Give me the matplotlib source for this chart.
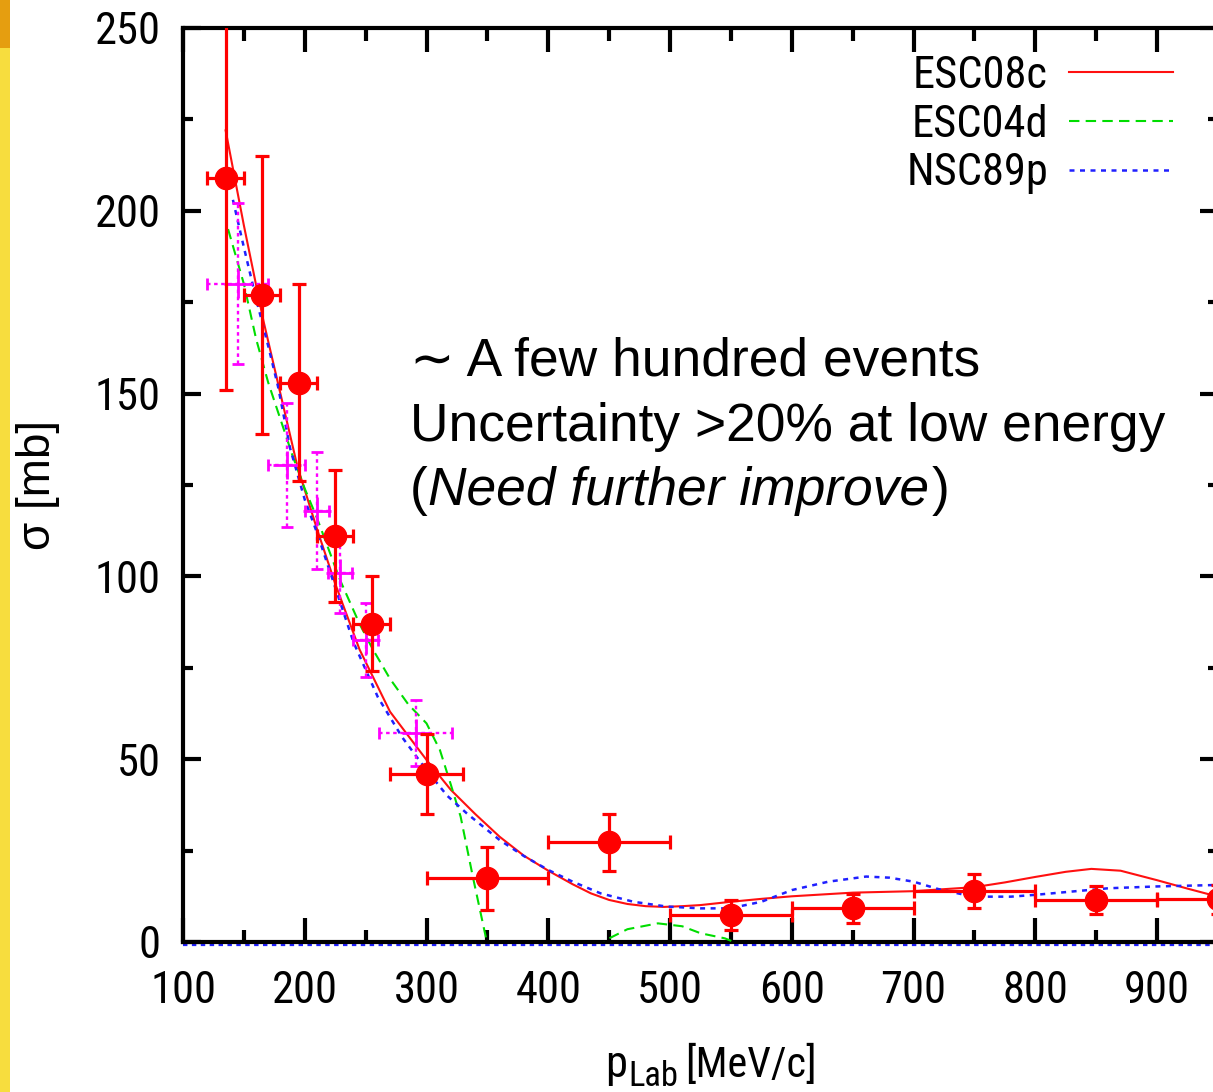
import matplotlib
matplotlib.use('Agg')
import matplotlib.pyplot as plt
import matplotlib.transforms as mtransforms
from matplotlib.patches import Rectangle
from matplotlib.ticker import MultipleLocator
from matplotlib import font_manager as fm
import numpy as np

# ---------------- data ----------------
new_x = [135, 165, 195, 225, 255, 300, 350, 450, 550, 650, 750, 850, 950]
new_y = [209, 177, 153, 111, 87, 46, 17.4, 27.3, 7.4, 9.2, 14.0, 11.5, 11.7]
new_xerr = [15, 15, 15, 15, 15, 30, 50, 50, 50, 50, 50, 50, 50]
new_yerr = [58, 38, 27, 18, 13, 11, 8.6, 7.8, 4, 4, 4.6, 3.8, 4]

old_x = [145, 185, 210, 229, 250, 291]
old_y = [180, 130.5, 118, 101, 82.6, 57.2]
old_xerr = [25, 15, 10, 10, 10, 30]
old_yerr = [22, 17, 16, 11, 10, 9]

esc08_x = [135, 150, 166, 180, 194, 210, 225, 245, 270, 300, 320, 340, 360, 380,
           400, 420, 435, 450, 465, 480, 495, 510, 525, 550, 575, 600, 650, 700, 750, 775,
           800, 825, 846, 870, 900, 925, 950]
esc08_y = [222, 196, 170, 150, 130, 113, 98, 80, 63, 49.8, 41.6, 35, 28.8, 23.6,
           19.5, 15.8, 13.3, 11.5, 10.4, 9.8, 9.6, 9.8, 10.1, 11, 11.8, 12.5, 13.5, 13.9, 15.0,
           16.3, 17.8, 19.2, 20.0, 19.5, 16.9, 14.6, 12.4]

esc04_x = [137, 150, 160, 170, 180, 190, 200, 210, 229, 245, 256, 270, 285, 300,
           311, 320, 328, 338, 348, 353,
           np.nan,
           440, 450, 465, 490, 510, 525, 545, 560]
esc04_y = [195, 180, 165, 153, 143, 133, 124, 116, 99, 87, 80, 72, 65, 59.8,
           52.5, 43, 34.3, 17.9, 2.4, -5,
           np.nan,
           -2, 1.0, 3.5, 5.1, 4.3, 2.4, 1.0, -1]

nsc_x = [141, 150, 160, 170, 178, 188, 200, 210, 221, 240, 260, 280, 300, 317, 333,
         360, 380, 400, 420, 443, 470, 497, 525, 549, 575, 600, 630, 661, 680, 700,
         720, 742, 760, 780, 800, 830, 860, 900, 950]
nsc_y = [203, 190, 176, 163, 152, 135, 121, 112, 101, 82, 67, 56, 47, 40, 35.2,
         27.9, 23.5, 19.7, 16.5, 13.3, 11, 9.7, 9.2, 9.2, 11, 14.2, 16.5, 17.9, 17.6,
         16.5, 14.5, 12.9, 12.4, 12.4, 12.9, 13.8, 14.7, 15.2, 15.6]

xticks = [100, 200, 300, 400, 500, 600, 700, 800, 900]
yticks = [0, 50, 100, 150, 200, 250]
legend_labels = ['ESC08c', 'ESC04d', 'NSC89p']

# ---------------- pick a narrow font if any ----------------
def pick_narrow():
    fl = fm.fontManager.ttflist
    for key in ['Liberation Sans Narrow', 'Arial Narrow', 'DejaVu Sans Condensed',
                'Roboto Condensed', 'Open Sans Condensed']:
        for f in fl:
            if f.name == key and f.style == 'normal' and f.weight in (400, 'normal'):
                return fm.FontProperties(fname=f.fname), True
    for f in fl:
        if 'DejaVuSansCondensed.ttf' in f.fname:
            return fm.FontProperties(fname=f.fname), True
    for f in fl:
        if f.stretch in ('condensed', 'semi-condensed', 'extra-condensed') and f.style == 'normal' \
                and f.weight in (400, 'normal') and 'Sans' in f.name:
            return fm.FontProperties(fname=f.fname), True
    return fm.FontProperties(family='Liberation Sans'), False

NP, is_narrow = pick_narrow()
FS = 32 if is_narrow else 27

def nfont(size=FS):
    p = NP.copy()
    p.set_size(size)
    return p

# ---------------- figure ----------------
W, H = 1213, 1092
fig = plt.figure(figsize=(W / 100, H / 100), dpi=100)
fig.patch.set_facecolor('white')

fig.patches.append(Rectangle((0, 0), 10 / W, 1, transform=fig.transFigure,
                             facecolor='#F7DD3E', edgecolor='none', zorder=0))
fig.patches.append(Rectangle((0, 1 - 48 / H), 10 / W, 48 / H, transform=fig.transFigure,
                             facecolor='#E59E10', edgecolor='none', zorder=0))

ax = fig.add_axes([183 / W, 1 - 942 / H, 1035 / W, 914 / H])
ax.set_xlim(100, 950)
ax.set_ylim(0, 250)

off = mtransforms.offset_copy(ax.transData, fig=fig, x=0, y=-2.5, units='dots')
ax.plot([100, 950], [0, 0], color='#2020FF', lw=1.6, ls=(0, (2, 2)),
        transform=off, clip_on=False, zorder=1)

ax.plot(esc08_x, esc08_y, color='#FF1010', lw=1.5, zorder=3, label=legend_labels[0])
ax.plot(esc04_x, esc04_y, color='#00DD00', lw=1.5, ls=(0, (5, 3)), zorder=3, label=legend_labels[1])
ax.plot(nsc_x, nsc_y, color='#2020FF', lw=1.8, ls=(0, (2, 2.2)), zorder=3, label=legend_labels[2])

eb = ax.errorbar(old_x, old_y, xerr=old_xerr, yerr=old_yerr, fmt='+', color='#FF00FF',
                 ms=20, mew=2.0, elinewidth=1.7, capsize=4, capthick=1.7, zorder=4)
for lc in eb[2]:
    lc.set_linestyle((0, (1.5, 1.5)))

ax.errorbar(new_x, new_y, xerr=new_xerr, yerr=new_yerr, fmt='o', color='#FF0000',
            ms=16, elinewidth=2.3, capsize=5, capthick=2.3, zorder=5)

ax.xaxis.set_minor_locator(MultipleLocator(50))
ax.yaxis.set_minor_locator(MultipleLocator(25))
ax.set_xticks(xticks)
ax.set_xticklabels([str(v) for v in xticks], fontproperties=nfont())
ax.set_yticks(yticks)
ax.set_yticklabels([str(v) for v in yticks], fontproperties=nfont())
ax.tick_params(axis='x', which='major', direction='in', length=17, width=3,
               top=True, bottom=True, pad=20.5)
ax.tick_params(axis='x', which='minor', direction='in', length=9, width=3,
               top=True, bottom=True)
ax.tick_params(axis='y', which='major', direction='in', length=13, width=3,
               left=True, right=True, pad=16)
ax.tick_params(axis='y', which='minor', direction='in', length=7, width=3,
               left=True, right=True)
for sp in ax.spines.values():
    sp.set_linewidth(3)

leg = ax.legend(loc='upper right', bbox_to_anchor=(1173 / W, 1 - 55 / H),
                bbox_transform=fig.transFigure, frameon=False, markerfirst=False,
                prop=nfont(), handlelength=104 / (FS * 100 / 72),
                handletextpad=21 / (FS * 100 / 72), labelspacing=0.15,
                borderpad=0, borderaxespad=0)

# axis labels
fig.text(38 / W, 1 - 485 / H, 'σ [mb]', rotation=90, ha='center', va='center',
         family=['Liberation Sans', 'DejaVu Sans'], fontsize=33)
renderer = fig.canvas.get_renderer()
base_y = 1 - 1077 / H
t1 = fig.text(605 / W, base_y, 'p', ha='left', va='baseline', fontproperties=nfont())
w1 = t1.get_window_extent(renderer).width
t2 = fig.text((605 + w1 + 1) / W, base_y - 9 / H, 'Lab', ha='left', va='baseline',
              fontproperties=nfont(FS * 0.78))
w2 = t2.get_window_extent(renderer).width
fig.text((605 + w1 + w2 + 8) / W, base_y, '[MeV/c]', ha='left', va='baseline',
         fontproperties=nfont(FS * 0.95))

# annotation
SANS = ['Liberation Sans', 'DejaVu Sans']
fig.text(410 / W, 1 - 376 / H, '∼ A few hundred events', family=SANS, fontsize=38.4,
         va='baseline', ha='left')
fig.text(410 / W, 1 - 441 / H, 'Uncertainty >20% at low energy', family=SANS, fontsize=38.4,
         va='baseline', ha='left')
a = fig.text(410 / W, 1 - 505 / H, '(', family=SANS, fontsize=38.4, va='baseline', ha='left')
wa = a.get_window_extent(renderer).width
b = fig.text((410 + wa) / W, 1 - 505 / H, 'Need further improve', family=SANS, style='italic',
             fontsize=38.4, va='baseline', ha='left')
wb = b.get_window_extent(renderer).width
fig.text((410 + wa + wb + 3) / W, 1 - 505 / H, ')', family=SANS, fontsize=38.4,
         va='baseline', ha='left')

fig.savefig('out.png', dpi=100)
